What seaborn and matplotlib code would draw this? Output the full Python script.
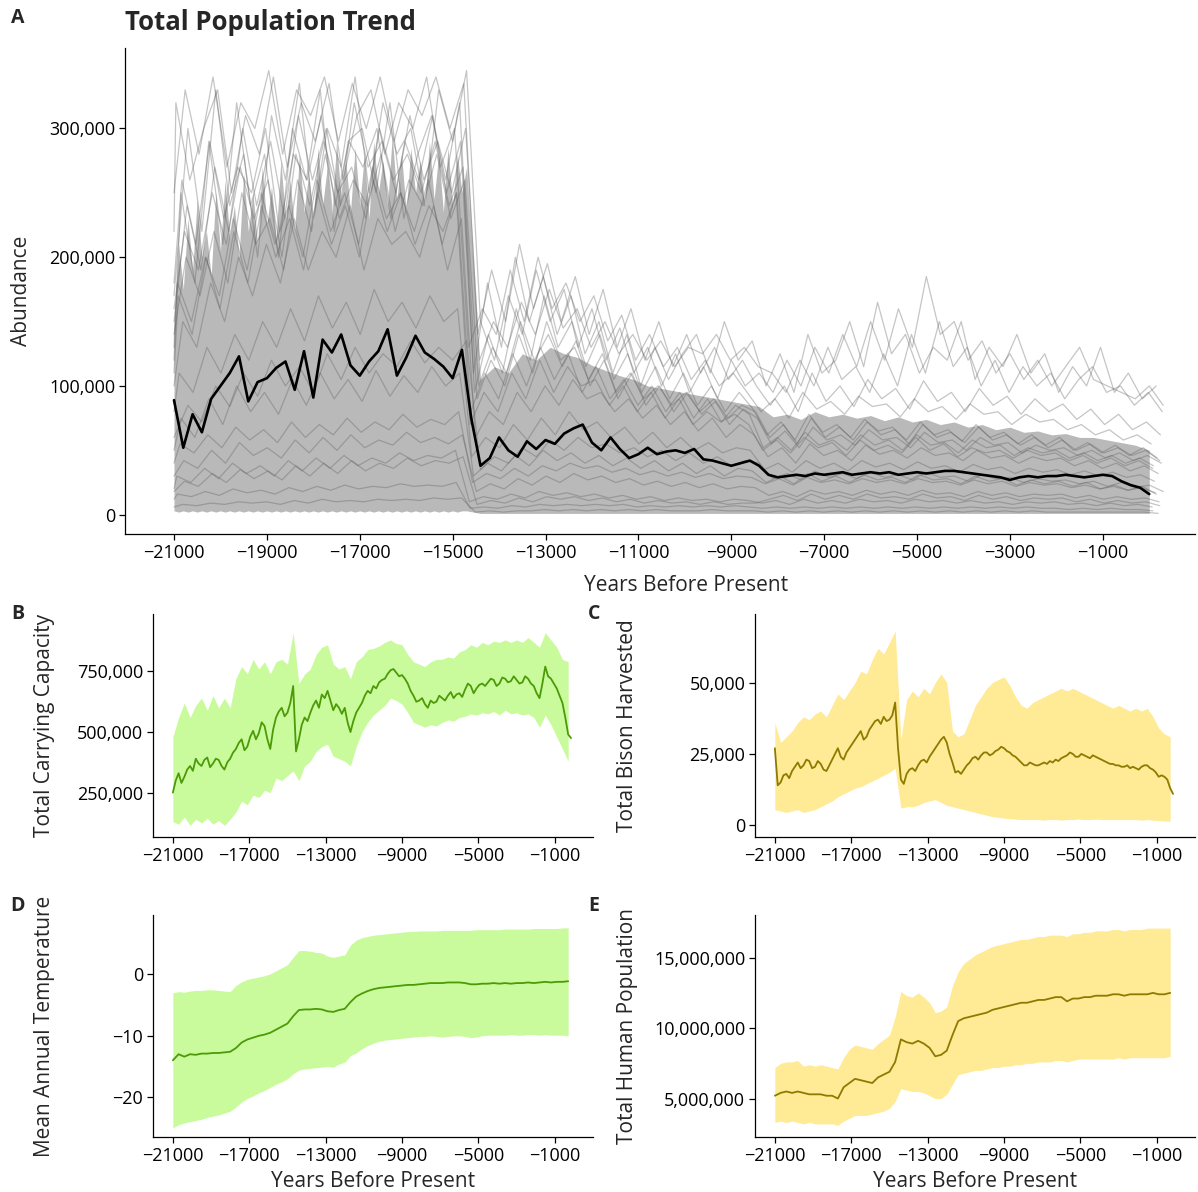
import numpy as np
import pandas as pd
import matplotlib
matplotlib.use("Agg")
import matplotlib.pyplot as plt
import seaborn as sns
from matplotlib.ticker import FuncFormatter

sns.set_theme(style="ticks")
plt.rcParams["font.family"] = ["Open Sans", "DejaVu Sans"]

# ---------------- Panel A: total bison abundance ----------------
# mean trajectory (thousands), 200-year steps
years_mean_a = np.arange(-21000, 1, 200)
abundance_mean_k = [89, 52, 78, 64, 90, 100, 110, 123, 88, 103,
                    106, 114, 119, 97, 127, 91, 136, 126, 140, 116,
                    108, 119, 127, 144, 108, 122, 139, 126, 121, 115,
                    106, 128, 75, 38, 44, 60, 50, 45, 57, 51,
                    58, 55, 63, 67, 70, 56, 50, 60, 51, 44,
                    47, 52, 47, 49, 50, 48, 51, 43, 42, 40,
                    38, 40, 42, 38, 31, 29, 30, 31, 30, 32,
                    31, 32, 33, 31, 32, 33, 32, 33, 31, 32,
                    33, 32, 33, 34, 34, 33, 32, 31, 30, 29,
                    27, 29, 30, 29, 30, 30, 31, 30, 29, 30,
                    31, 30, 26, 23, 21, 16]

# spread band (thousands): 100-year steps before the collapse, 300-year steps after
years_band_a = np.concatenate([np.arange(-21000, -14699, 100), np.arange(-14400, 1, 300)])
band_hi_k = [150, 210, 175, 230, 190, 245, 200, 220, 185, 250,
             205, 260, 215, 240, 200, 265, 220, 250, 210, 270,
             225, 255, 215, 275, 230, 260, 220, 280, 235, 265,
             225, 285, 240, 270, 230, 290, 245, 275, 235, 285,
             240, 280, 230, 290, 250, 275, 240, 295, 245, 280,
             235, 285, 250, 275, 240, 290, 245, 280, 235, 285,
             240, 280, 250, 270,
             105, 115, 110, 125, 120, 130, 125, 122, 116, 112, 108, 105, 100, 98, 96, 94, 92, 90, 88, 86, 84,
             76, 78, 74, 80, 76, 78, 75, 77, 73, 76, 72, 74, 70, 72, 68, 70, 66, 68, 64, 65, 62, 63, 60, 60, 58, 56, 54, 50]
band_lo_k = [3, 2, 3, 2, 3, 2, 3, 2, 3, 2, 3, 2, 3, 2, 3, 2, 3, 2, 3, 2,
             3, 2, 3, 2, 3, 2, 3, 2, 3, 2, 3, 2, 3, 2, 3, 2, 3, 2, 3, 2,
             3, 2, 3, 2, 3, 2, 3, 2, 3, 2, 3, 2, 3, 2, 3, 2, 3, 2, 3, 2,
             3, 2, 3, 3,
             1, 1, 1, 1, 1, 1, 1, 1, 1, 1, 1, 1, 1, 1, 1, 1, 1, 1, 1, 1, 1,
             1, 1, 1, 1, 1, 1, 1, 1, 1, 1, 1, 1, 1, 1, 1, 1, 1, 1, 1, 1, 1, 1, 1, 1, 1, 1, 1, 1]

# individual simulation runs (thousands), 300-year steps; each run is sampled
# on its own lag so the runs are not recorded at the same instants
years_runs_a = np.arange(-21000, 301, 300)
run_lags = [0, 150, 75, 225, 110, 40, 190, 260, 20, 130, 210, 60, 170, 90, 240, 0, 150, 75, 225, 110]
run_h1 = [170, 300, 220, 330, 240, 280, 200, 310, 260, 335, 230, 300, 270, 340, 250, 320, 280, 300, 240, 330, 290, 345,
          150, 120, 170, 140, 190, 150, 175, 130, 160, 120, 145, 110, 130, 100, 125, 95, 115, 90, 120, 100, 110,
          95, 120, 100, 130, 110, 140, 115, 150, 120, 160, 130, 185, 140, 150, 120, 135, 110, 125, 105, 120, 100, 115, 130, 105, 100, 95, 90, 100, 85]
run_h2 = [130, 250, 180, 290, 210, 320, 240, 280, 200, 300, 260, 330, 220, 290, 300, 250, 320, 230, 280, 310, 260, 320,
          110, 180, 130, 200, 150, 185, 140, 170, 125, 150, 110, 140, 100, 130, 105, 125, 140, 110, 150, 120, 135,
          100, 125, 95, 140, 110, 120, 150, 115, 165, 125, 140, 110, 130, 120, 150, 105, 130, 115, 140, 110, 125, 95, 115, 100, 130, 95, 110, 90, 100]
run_h3 = [160, 220, 190, 250, 210, 270, 230, 260, 200, 280, 240, 290, 250, 270, 230, 300, 260, 280, 250, 290, 240, 270,
          90, 120, 100, 140, 110, 150, 120, 130, 105, 125, 95, 110, 90, 100, 85, 95, 80, 90, 75, 85, 80,
          60, 70, 55, 75, 60, 68, 58, 72, 62, 66, 55, 70, 60, 64, 56, 68, 58, 62, 54, 60, 52, 58, 50, 55, 48, 52, 46, 50, 42]
run_h4 = [120, 180, 150, 200, 170, 230, 190, 250, 210, 240, 200, 260, 220, 250, 210, 270, 230, 250, 220, 260, 210, 250,
          70, 95, 80, 110, 90, 120, 95, 115, 100, 105, 85, 100, 80, 95, 75, 90, 70, 80, 72, 78, 70,
          50, 58, 48, 60, 52, 56, 46, 58, 50, 54, 48, 60, 50, 55, 45, 52, 48, 50, 44, 50, 46, 48, 42, 46, 40, 44, 38, 42, 36]
run_h5 = [100, 150, 130, 180, 150, 200, 170, 210, 180, 230, 190, 220, 200, 240, 190, 230, 210, 220, 200, 240, 190, 230,
          60, 80, 70, 95, 80, 100, 85, 105, 90, 95, 80, 90, 75, 85, 70, 80, 65, 75, 60, 70, 62,
          45, 52, 40, 55, 46, 50, 42, 54, 47, 50, 44, 52, 46, 48, 42, 50, 44, 46, 40, 45, 42, 44, 38, 42, 36, 40, 34, 38, 32]
run_h6 = [140, 200, 170, 220, 180, 250, 210, 230, 190, 260, 220, 280, 230, 260, 240, 280, 220, 260, 240, 280, 230, 260,
          100, 130, 110, 150, 120, 140, 115, 135, 100, 120, 90, 110, 85, 100, 80, 95, 78, 88, 70, 82, 75,
          55, 65, 52, 68, 58, 62, 54, 66, 58, 60, 52, 64, 56, 58, 50, 60, 54, 56, 48, 54, 50, 52, 46, 50, 44, 48, 42, 46, 40]
run_h7 = [80, 110, 95, 130, 110, 140, 120, 150, 130, 160, 135, 170, 145, 165, 140, 175, 150, 165, 145, 170, 150, 160,
          45, 60, 52, 70, 58, 75, 62, 80, 66, 72, 60, 68, 55, 64, 52, 60, 50, 56, 48, 52, 50,
          35, 40, 33, 42, 36, 40, 34, 42, 37, 40, 35, 41, 36, 38, 33, 39, 35, 37, 32, 36, 33, 35, 31, 34, 30, 33, 29, 31, 26]
run_h8 = [220, 320, 260, 300, 330, 250, 310, 280, 340, 270, 320, 290, 335, 260, 310, 330, 280, 320, 300, 340, 270, 300,
          130, 160, 140, 190, 150, 200, 160, 180, 150, 170, 135, 155, 120, 140, 115, 130, 105, 120, 100, 110, 95,
          80, 90, 75, 95, 82, 88, 78, 92, 84, 86, 76, 90, 80, 84, 74, 86, 78, 80, 70, 78, 72, 74, 66, 70, 62, 66, 58, 62, 55]
run_h9 = [150, 240, 190, 270, 220, 300, 240, 290, 230, 310, 260, 300, 240, 320, 270, 290, 250, 310, 260, 290, 250, 300,
          120, 150, 130, 165, 140, 175, 145, 160, 130, 150, 125, 140, 120, 135, 115, 130, 125, 140, 120, 130, 115,
          110, 95, 120, 100, 130, 105, 115, 95, 125, 100, 140, 110, 150, 115, 130, 100, 120, 95, 115, 100, 110, 90, 105, 115, 95, 100, 85, 95, 80]
run_h10 = [180, 260, 210, 290, 230, 270, 250, 300, 220, 280, 260, 310, 240, 290, 270, 300, 230, 290, 260, 310, 250, 290,
           95, 140, 110, 160, 120, 170, 130, 150, 115, 140, 105, 125, 95, 115, 90, 110, 85, 100, 80, 95, 82,
           62, 72, 58, 78, 64, 70, 60, 74, 65, 68, 58, 72, 62, 66, 57, 70, 60, 64, 55, 62, 54, 60, 50, 56, 48, 54, 46, 52, 44]
run_h11 = [110, 170, 140, 200, 160, 220, 180, 240, 200, 230, 190, 250, 210, 240, 200, 260, 220, 250, 210, 240, 220, 250,
           80, 110, 90, 125, 100, 130, 105, 125, 95, 115, 90, 105, 85, 100, 80, 95, 75, 90, 72, 85, 78,
           52, 60, 50, 64, 54, 58, 50, 62, 54, 58, 50, 62, 54, 56, 48, 58, 52, 54, 46, 52, 48, 50, 44, 48, 42, 46, 40, 44, 38]
run_h12 = [250, 330, 280, 340, 270, 320, 300, 345, 280, 330, 310, 340, 290, 335, 300, 340, 290, 330, 310, 340, 300, 335,
           140, 190, 150, 210, 160, 195, 150, 185, 140, 175, 130, 160, 120, 150, 115, 140, 110, 130, 105, 120, 100,
           85, 100, 80, 110, 88, 100, 84, 105, 90, 98, 82, 104, 88, 95, 80, 98, 85, 92, 78, 90, 80, 86, 74, 82, 70, 78, 66, 72, 62]
run_m1 = [40, 55, 48, 62, 52, 68, 58, 66, 56, 72, 60, 70, 62, 75, 64, 72, 66, 78, 68, 74, 70, 80,
          25, 32, 28, 36, 30, 38, 34, 40, 36, 38, 33, 36, 31, 34, 30, 33, 29, 32, 28, 30, 29,
          24, 28, 23, 29, 25, 27, 24, 28, 25, 27, 24, 28, 25, 26, 23, 27, 24, 26, 22, 25, 23, 24, 21, 23, 20, 22, 19, 21, 17]
run_m2 = [30, 42, 36, 50, 40, 56, 46, 52, 44, 58, 48, 60, 50, 62, 52, 58, 54, 64, 56, 60, 55, 62,
          18, 24, 20, 28, 23, 30, 25, 32, 27, 30, 25, 28, 23, 26, 22, 25, 21, 24, 20, 22, 21,
          15, 18, 14, 19, 16, 18, 15, 19, 16, 18, 15, 19, 16, 17, 14, 18, 15, 17, 14, 16, 15, 16, 13, 15, 12, 14, 12, 13, 10]
run_m3 = [20, 30, 25, 36, 28, 40, 32, 38, 30, 42, 34, 44, 36, 46, 38, 44, 40, 48, 42, 46, 44, 50,
          10, 14, 12, 16, 13, 18, 15, 17, 14, 16, 13, 15, 12, 14, 11, 13, 11, 12, 10, 12, 11,
          9, 11, 8, 12, 9, 11, 9, 12, 10, 11, 9, 12, 10, 11, 9, 11, 9, 10, 8, 10, 9, 10, 8, 9, 7, 9, 7, 8, 6]
run_m4 = [60, 85, 72, 100, 84, 110, 92, 120, 100, 115, 95, 125, 105, 130, 110, 125, 115, 135, 118, 130, 120, 135,
          35, 45, 40, 52, 45, 58, 50, 60, 52, 55, 48, 52, 45, 50, 42, 48, 40, 45, 38, 42, 40,
          28, 32, 27, 34, 29, 32, 28, 33, 29, 31, 27, 33, 29, 30, 26, 31, 28, 29, 25, 28, 26, 27, 24, 26, 22, 25, 21, 23, 18]
run_m5 = [50, 75, 60, 90, 70, 100, 80, 95, 78, 105, 85, 110, 90, 105, 88, 112, 92, 108, 95, 115, 100, 110,
          30, 40, 34, 46, 38, 50, 42, 48, 40, 46, 38, 44, 36, 42, 34, 40, 32, 38, 30, 36, 34,
          25, 30, 24, 32, 26, 30, 25, 31, 27, 29, 25, 31, 27, 28, 24, 30, 26, 28, 23, 27, 24, 26, 22, 25, 20, 23, 19, 22, 16]
run_m6 = [18, 26, 22, 32, 25, 35, 28, 34, 27, 38, 30, 40, 32, 42, 34, 40, 36, 44, 38, 42, 40, 45,
          8, 11, 9, 13, 10, 14, 12, 14, 11, 13, 10, 12, 9, 11, 9, 10, 8, 10, 8, 9, 9,
          12, 15, 11, 16, 12, 15, 12, 16, 13, 14, 12, 16, 13, 14, 11, 15, 12, 14, 11, 13, 12, 13, 10, 12, 9, 11, 9, 10, 7]
run_l1 = [12, 16, 14, 18, 15, 20, 17, 19, 16, 21, 18, 22, 19, 23, 20, 22, 21, 24, 22, 23, 22, 25,
          5, 6, 5, 7, 6, 8, 7, 8, 7, 8, 7, 8, 6, 7, 6, 7, 6, 7, 6, 7, 6,
          5, 6, 5, 6, 5, 6, 5, 6, 5, 6, 5, 6, 5, 6, 5, 6, 5, 6, 5, 6, 5, 5, 4, 5, 4, 5, 4, 4, 3]
run_l2 = [6, 8, 7, 9, 8, 10, 9, 10, 8, 11, 9, 12, 10, 11, 10, 12, 11, 12, 11, 13, 12, 13,
          2, 3, 2, 3, 3, 4, 3, 4, 3, 4, 3, 4, 3, 4, 3, 3, 3, 4, 3, 3, 3,
          2, 3, 2, 3, 2, 3, 2, 3, 2, 3, 2, 3, 2, 3, 2, 3, 2, 3, 2, 3, 2, 2, 2, 2, 2, 2, 2, 2, 1]

# ---------------- Panels B-E: environmental / harvest envelopes ----------------
years_env = np.arange(-21000, -299, 300)
years_env_fine = np.arange(-21000, -149, 150)

capacity_mean_k = [250, 300, 330, 290, 315, 345, 360, 340, 390, 370, 360, 385, 395, 355, 370, 390, 385, 360, 345, 375,
                   390, 415, 430, 455, 470, 425, 440, 480, 505, 470, 495, 540, 525, 470, 430, 510, 560, 585, 600, 565,
                   580, 620, 690, 420, 470, 530, 560, 545, 580, 610, 630, 600, 655, 640, 670, 630, 590, 615, 600, 575,
                   600, 540, 500, 545, 580, 600, 620, 650, 670, 660, 690, 680, 705, 715, 720, 740, 755, 760, 745, 730,
                   735, 720, 700, 670, 650, 625, 630, 640, 615, 600, 630, 620, 625, 650, 640, 630, 650, 665, 640, 655,
                   660, 645, 675, 700, 690, 660, 680, 695, 700, 690, 705, 720, 715, 690, 700, 725, 720, 705, 710, 730,
                   715, 700, 705, 730, 720, 700, 690, 660, 640, 700, 770, 730, 720, 700, 680, 650, 620, 560, 490, 475]
capacity_hi_k = [480, 560, 620, 560, 610, 640, 590, 650, 600, 640, 600, 720, 770, 740, 800, 760, 790, 740, 790, 800,
                 780, 910, 700, 740, 760, 820, 850, 860, 780, 760, 770, 720, 790, 810, 840, 845, 855, 870, 880, 865,
                 860, 820, 790, 780, 770, 790, 800, 800, 810, 805, 830, 840, 860, 850, 870, 860, 875, 870, 880, 870,
                 880, 870, 890, 870, 850, 910, 880, 850, 800, 790]
capacity_lo_k = [130, 120, 150, 115, 140, 125, 145, 120, 135, 115, 140, 170, 215, 200, 240, 230, 260, 250, 310, 300,
                 320, 340, 300, 360, 380, 420, 440, 450, 400, 390, 380, 360, 440, 500, 540, 570, 590, 610, 640, 630,
                 615, 580, 540, 530, 520, 530, 525, 540, 550, 545, 560, 565, 575, 570, 580, 575, 585, 570, 590, 575,
                 580, 570, 575, 560, 520, 570, 530, 480, 430, 380]

harvest_mean_k = [27, 14, 15, 17.5, 18, 16.5, 19, 20.5, 22, 20, 21, 23, 22.5, 20, 20.5, 22.5, 21.5, 19.5, 19, 21,
                  23, 25, 27, 24, 23, 25.5, 27, 28.5, 30, 31.5, 33, 30, 31, 33.5, 35, 36.5, 37, 35.5, 38, 36.5,
                  37, 38.5, 43, 27, 16, 14.5, 18, 19.5, 20, 19, 21, 22.5, 23, 22, 24, 25.5, 27, 28.5, 30, 31,
                  29, 25, 22, 18.5, 19, 18, 19.5, 21, 22, 23.5, 24, 23, 24.5, 25.5, 25.5, 24.5, 25, 26, 26.5, 27.5,
                  27, 26, 25.5, 24.5, 24, 23, 22, 21, 21, 22, 21.5, 21, 21, 21.5, 22, 21.5, 22.5, 22, 23, 22.5,
                  23.5, 24, 24.5, 25.5, 25, 24, 24, 25, 24.5, 24, 23.5, 24.5, 24, 23.5, 23, 22.5, 22, 21.5, 21.5, 21,
                  21, 20.5, 20.5, 21, 20, 20.5, 20, 19.5, 20.5, 21, 21, 20, 19.5, 18.5, 17, 17.5, 17, 16, 13, 11]
harvest_hi_k = [36, 29, 31, 33, 36, 38, 37, 39, 40, 38, 42, 46, 44, 47, 50, 54, 53, 58, 62, 60,
                64, 68, 30, 44, 47, 45, 48, 46, 50, 53, 50, 33, 31, 32, 37, 42, 45, 48, 50, 51,
                52, 49, 45, 42, 41, 43, 44, 45, 46, 47, 48, 47, 48, 47, 46, 45, 44, 43, 42, 41,
                42, 41, 40, 41, 40, 41, 38, 34, 32, 31]
harvest_lo_k = [5.5, 5, 4.5, 5, 5.5, 4.5, 5, 5.5, 6.5, 7.5, 8.5, 10, 11, 12, 13, 13.5, 14.5, 15.5, 16.5, 17.5,
                18.5, 20, 6, 6.5, 6.5, 7, 8, 8.5, 9, 8, 7, 6.5, 6, 5.5, 5, 4.5, 4, 3.5, 3, 2.8,
                2.5, 2.3, 2.2, 2, 2, 2, 2, 1.8, 2, 2, 1.8, 2, 2, 2.2, 2, 2, 2.2, 2, 2, 2,
                2, 2, 2, 2, 1.8, 2, 1.8, 1.6, 1.5, 1.4]

temp_mean = [-14.0, -13.0, -13.4, -13.0, -13.1, -12.9, -12.9, -12.8, -12.8, -12.7, -12.6, -12.0, -11.1, -10.6, -10.3,
             -10.0, -9.8, -9.5, -9.0, -8.5, -8.0, -6.8, -5.8, -5.7, -5.7, -5.6, -5.7, -6.0, -6.1, -5.8,
             -5.6, -4.5, -3.6, -3.1, -2.7, -2.4, -2.2, -2.1, -2.0, -1.9, -1.8, -1.7, -1.7, -1.6, -1.5,
             -1.4, -1.4, -1.4, -1.3, -1.3, -1.3, -1.4, -1.6, -1.6, -1.5, -1.5, -1.4, -1.5, -1.4, -1.5,
             -1.4, -1.4, -1.3, -1.4, -1.3, -1.2, -1.3, -1.2, -1.2, -1.1]
temp_hi = [-3.0, -2.8, -2.9, -2.7, -2.6, -2.6, -2.5, -2.5, -2.6, -2.7, -2.8, -1.8, -1.2, -0.8, -0.6,
           -0.4, -0.2, 0.1, 0.6, 1.1, 1.6, 2.8, 3.9, 3.9, 3.8, 3.6, 3.5, 3.0, 2.8, 3.0,
           3.2, 4.8, 5.6, 6.0, 6.2, 6.4, 6.5, 6.6, 6.7, 6.8, 6.9, 7.0, 7.0, 7.1, 7.1,
           7.1, 7.1, 7.2, 7.2, 7.2, 7.2, 7.2, 7.2, 7.3, 7.3, 7.3, 7.3, 7.3, 7.4, 7.4,
           7.4, 7.4, 7.4, 7.5, 7.5, 7.5, 7.5, 7.5, 7.6, 7.6]
temp_lo = [-25.0, -24.5, -24.2, -24.0, -23.8, -23.6, -23.3, -23.1, -22.9, -22.6, -22.3, -21.6, -20.8, -20.2, -19.8,
           -19.3, -18.9, -18.4, -17.9, -17.5, -17.0, -16.2, -15.6, -15.4, -15.3, -15.2, -15.1, -15.0, -15.1, -14.6,
           -14.3, -13.2, -12.8, -12.1, -11.6, -11.2, -10.9, -10.7, -10.6, -10.5, -10.4, -10.3, -10.2, -10.1, -10.1,
           -10.0, -10.1, -10.2, -10.1, -10.0, -10.0, -10.1, -10.3, -10.2, -10.0, -9.9, -9.9, -9.9, -9.9, -9.8,
           -9.9, -9.9, -9.8, -9.8, -9.9, -9.8, -9.9, -9.9, -9.9, -10.0]

human_mean_m = [5.2, 5.4, 5.5, 5.4, 5.5, 5.4, 5.3, 5.3, 5.3, 5.2, 5.2, 5.0, 5.8, 6.1, 6.4, 6.3, 6.2, 6.1, 6.5, 6.7,
                6.9, 7.6, 9.2, 9.0, 8.9, 9.1, 8.9, 8.6, 8.0, 8.1, 8.4, 9.5, 10.5, 10.7, 10.8, 10.9, 11.0, 11.1, 11.3, 11.4,
                11.5, 11.6, 11.7, 11.8, 11.8, 11.9, 12.0, 12.0, 12.1, 12.2, 12.2, 11.9, 12.1, 12.1, 12.2, 12.2, 12.3, 12.3, 12.3, 12.4,
                12.4, 12.3, 12.4, 12.4, 12.4, 12.4, 12.5, 12.4, 12.4, 12.5]
human_hi_m = [7.2, 7.5, 7.6, 7.6, 7.7, 7.3, 7.4, 7.3, 7.4, 7.3, 7.2, 7.1, 7.9, 8.5, 8.8, 8.7, 8.6, 8.5, 8.9, 9.2,
              9.5, 10.8, 12.6, 12.3, 12.2, 12.5, 12.2, 11.8, 11.1, 11.2, 11.5, 13.0, 14.0, 14.6, 14.9, 15.2, 15.4, 15.6, 15.8, 15.9,
              16.0, 16.1, 16.2, 16.3, 16.3, 16.4, 16.5, 16.5, 16.6, 16.6, 16.6, 16.5, 16.7, 16.7, 16.8, 16.8, 16.9, 16.9, 16.9, 17.0,
              17.0, 16.9, 17.0, 17.0, 17.0, 17.1, 17.1, 17.1, 17.1, 17.1]
human_lo_m = [3.3, 3.4, 3.3, 3.4, 3.3, 3.2, 3.3, 3.2, 3.2, 3.2, 3.2, 3.1, 3.4, 3.6, 3.8, 3.8, 3.8, 3.9, 4.0, 4.1,
              4.3, 4.8, 5.7, 5.6, 5.5, 5.5, 5.4, 5.2, 5.0, 5.0, 5.3, 6.0, 6.7, 6.8, 6.9, 7.0, 7.0, 7.1, 7.2, 7.2,
              7.3, 7.3, 7.4, 7.4, 7.5, 7.5, 7.6, 7.6, 7.6, 7.7, 7.7, 7.6, 7.7, 7.8, 7.8, 7.8, 7.8, 7.8, 7.8, 7.8,
              7.9, 7.8, 7.9, 7.9, 7.9, 7.9, 7.9, 7.9, 7.9, 8.0]

# ---------------- styling ----------------
GREEN_FILL, GREEN_LINE = "#c9fb9c", "#4b9a06"
GOLD_FILL, GOLD_LINE = "#ffea96", "#8d7b00"
TICK_FS, LABEL_FS = 13, 15
comma = FuncFormatter(lambda v, p: f"{v:,.0f}")

W, H = 1198, 1192
fig = plt.figure(figsize=(W / 100, H / 100), dpi=100)


def px_axes(left, top, right, bottom):
    return fig.add_axes([left / W, 1 - bottom / H, (right - left) / W, (bottom - top) / H])


def style(ax):
    sns.despine(ax=ax)
    for s in ("left", "bottom"):
        ax.spines[s].set_linewidth(0.9)
        ax.spines[s].set_color("black")
    ax.tick_params(axis="both", length=4, width=0.9, color="black",
                   labelsize=TICK_FS, labelcolor="black", pad=3)
    ax.grid(False)
    ax.set_facecolor("white")


# Panel A
axA = px_axes(125, 48, 1195, 534)
axA.fill_between(years_band_a, np.array(band_lo_k) * 1000, np.array(band_hi_k) * 1000,
                 color="#b9b9b9", linewidth=0)
runs = [run_h1, run_h2, run_h3, run_h4, run_h5, run_h6, run_h7, run_h8, run_h9, run_h10,
        run_h11, run_h12, run_m1, run_m2, run_m3, run_m4, run_m5, run_m6, run_l1, run_l2]
run_years = []
for lag in run_lags:
    yrs = (years_runs_a - lag).astype(float)
    yrs[0] = -21000
    run_years.append(yrs)
runs_df = pd.DataFrame({
    "year": np.concatenate(run_years),
    "abundance": np.concatenate([np.array(r) * 1000 for r in runs]),
    "run": np.repeat(np.arange(len(runs)), len(years_runs_a)),
})
sns.lineplot(data=runs_df, x="year", y="abundance", units="run", estimator=None,
             sort=False, color="#5f5f5f", alpha=0.36, linewidth=0.9, ax=axA)
sns.lineplot(x=years_mean_a, y=np.array(abundance_mean_k) * 1000, color="black",
             linewidth=1.9, ax=axA)
axA.set_xlim(-22055, 985)
axA.set_ylim(-15000, 362500)
axA.set_xticks(np.arange(-21000, 0, 2000))
axA.set_yticks([0, 100000, 200000, 300000])
axA.yaxis.set_major_formatter(comma)
style(axA)
axA.set_xlabel("Years Before Present", fontsize=LABEL_FS)
axA.set_ylabel("Abundance", fontsize=LABEL_FS)
axA.xaxis.set_label_coords(0.524, -0.085)
axA.yaxis.set_label_coords(-0.087, 0.5)


def envelope(ax, lo, hi, mean, fill, line, mean_years):
    ax.fill_between(years_env, lo, hi, color=fill, linewidth=0)
    sns.lineplot(x=mean_years, y=mean, color=line, linewidth=1.3, ax=ax)
    ax.set_xlim(-22040, 1000)
    ax.set_xticks([-21000, -17000, -13000, -9000, -5000, -1000])
    style(ax)


# Panel B
axB = px_axes(153, 614, 593, 837)
envelope(axB, np.array(capacity_lo_k) * 1000, np.array(capacity_hi_k) * 1000,
         np.array(capacity_mean_k) * 1000, GREEN_FILL, GREEN_LINE, years_env_fine)
axB.set_ylim(67000, 987000)
axB.set_yticks([250000, 500000, 750000])
axB.yaxis.set_major_formatter(comma)
axB.set_ylabel("Total Carrying Capacity", fontsize=LABEL_FS)
axB.yaxis.set_label_coords(-0.222, 0.5)

# Panel C
axC = px_axes(755, 614, 1195, 837)
envelope(axC, np.array(harvest_lo_k) * 1000, np.array(harvest_hi_k) * 1000,
         np.array(harvest_mean_k) * 1000, GOLD_FILL, GOLD_LINE, years_env_fine)
axC.set_ylim(-4100, 74000)
axC.set_yticks([0, 25000, 50000])
axC.yaxis.set_major_formatter(comma)
axC.set_ylabel("Total Bison Harvested", fontsize=LABEL_FS)
axC.yaxis.set_label_coords(-0.266, 0.5)

# Panel D
axD = px_axes(153, 915, 593, 1137)
envelope(axD, temp_lo, temp_hi, temp_mean, GREEN_FILL, GREEN_LINE, years_env)
axD.set_ylim(-26.5, 9.7)
axD.set_yticks([-20, -10, 0])
axD.set_ylabel("Mean Annual Temperature", fontsize=LABEL_FS)
axD.set_xlabel("Years Before Present", fontsize=LABEL_FS)
axD.yaxis.set_label_coords(-0.222, 0.5)
axD.xaxis.set_label_coords(0.5, -0.155)

# Panel E
axE = px_axes(755, 915, 1195, 1137)
envelope(axE, np.array(human_lo_m) * 1e6, np.array(human_hi_m) * 1e6,
         np.array(human_mean_m) * 1e6, GOLD_FILL, GOLD_LINE, years_env)
axE.set_ylim(2.27e6, 18.03e6)
axE.set_yticks([5e6, 10e6, 15e6])
axE.yaxis.set_major_formatter(comma)
axE.set_ylabel("Total Human Population", fontsize=LABEL_FS)
axE.set_xlabel("Years Before Present", fontsize=LABEL_FS)
axE.yaxis.set_label_coords(-0.266, 0.5)
axE.xaxis.set_label_coords(0.5, -0.155)

# titles and panel tags
fig.text(125 / W, 1 - 22 / H, "Total Population Trend", fontsize=18.5, fontweight="bold",
         ha="left", va="center")
for tag, x, y in [("A", 18, 18), ("B", 18, 614), ("C", 594, 614), ("D", 18, 906), ("E", 594, 906)]:
    fig.text(x / W, 1 - y / H, tag, fontsize=14, fontweight="bold", ha="center", va="center")

fig.savefig("out.png", dpi=100, facecolor="white")
